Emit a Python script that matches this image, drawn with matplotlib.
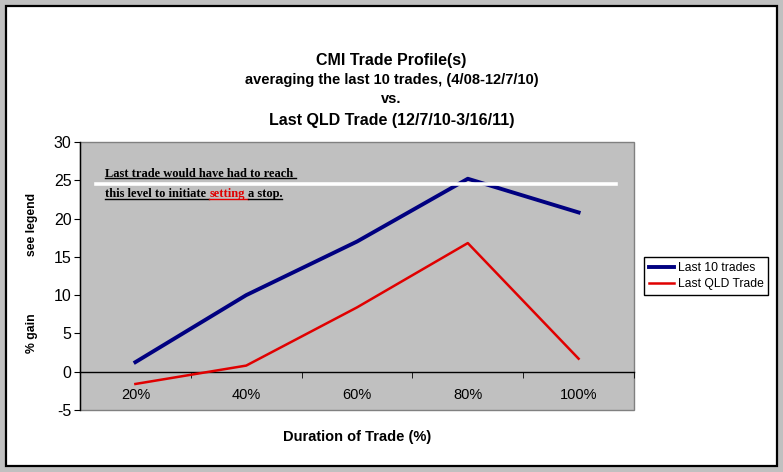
import numpy as np
import matplotlib
matplotlib.use("Agg")
import matplotlib.pyplot as plt
from matplotlib.patches import Rectangle
from matplotlib.lines import Line2D

plt.rcParams['axes.unicode_minus'] = False

# Data
categories = ['20%', '40%', '60%', '80%', '100%']
last_10 = [1.25, 10.0, 17.0, 25.2, 20.8]
last_qld = [-1.6, 0.8, 8.4, 16.8, 1.7]
stop_level = 24.5
stop_span = [-0.36, 4.34]

title_lines = ["CMI Trade Profile(s)",
               "averaging the last 10 trades, (4/08-12/7/10)",
               "vs.",
               "Last QLD Trade (12/7/10-3/16/11)"]
note_line1 = "Last trade would have had to reach"
note_line2 = ["this level to initiate", "setting", "a stop."]

W, H = 783, 472
SANS = "Liberation Sans"
SERIF = "Liberation Serif"


def fx(px):
    return px / W


def fy(py):
    return 1 - py / H


fig = plt.figure(figsize=(W / 100, H / 100), dpi=100, facecolor='#c0c0c0')

# white chart area with black frame
fig.patches.append(Rectangle((fx(6), fy(466)), (777 - 6) / W, (466 - 6) / H,
                             transform=fig.transFigure, facecolor='white',
                             edgecolor='black', lw=1.6, zorder=-10))

# plot area
ax = fig.add_axes([fx(80), fy(410), (634 - 80) / W, (410 - 142) / H])
ax.set_zorder(1)
ax.set_facecolor('#c0c0c0')

x = np.arange(len(categories))
ax.plot(x, last_10, color='#000080', lw=2.8, label='Last 10 trades', zorder=3)
ax.plot(x, last_qld, color='#e00000', lw=1.8, label='Last QLD Trade', zorder=3)
ax.plot(stop_span, [stop_level, stop_level], color='white', lw=2.6, zorder=4)

ax.set_xlim(-0.5, len(categories) - 0.5)
ax.set_ylim(-5, 30)
ax.set_yticks(range(-5, 31, 5))

# grey plot area border, black axes
ax.add_patch(Rectangle((0, 0), 1, 1, transform=ax.transAxes, fill=False,
                       edgecolor='#808080', lw=1, clip_on=False, zorder=1))
for s in ['top', 'right']:
    ax.spines[s].set_visible(False)
ax.spines['left'].set_color('black')
ax.spines['left'].set_linewidth(1)
ax.spines['bottom'].set_position(('data', 0))
ax.spines['bottom'].set_color('black')
ax.spines['bottom'].set_linewidth(1)

ax.set_xticks(x)
ax.set_xticklabels(categories)
ax.set_xticks(np.arange(-0.5, len(categories), 1), minor=True)
ax.tick_params(axis='x', which='major', length=0, pad=12, labelsize=10.5)
ax.tick_params(axis='x', which='minor', length=4, direction='out', color='black')
ax.tick_params(axis='y', length=4, direction='out', labelsize=11.5, pad=2)
for lab in ax.get_xticklabels() + ax.get_yticklabels():
    lab.set_fontfamily(SANS)

# titles
title_y = [60, 80, 99, 121]
title_size = [11.5, 10.5, 10.5, 11.5]
for line, ty, sz in zip(title_lines, title_y, title_size):
    fig.text(fx(391.5), fy(ty), line, ha='center', va='center',
             fontsize=sz, fontweight='bold', family=SANS)

# axis titles
fig.text(fx(357), fy(437), "Duration of Trade (%)", ha='center', va='center',
         fontsize=10.5, fontweight='bold', family=SANS)
fig.text(fx(32), fy(224), "see legend", ha='center', va='center', rotation=90,
         fontsize=8.8, fontweight='bold', family=SANS)
fig.text(fx(32), fy(333), "% gain", ha='center', va='center', rotation=90,
         fontsize=8.8, fontweight='bold', family=SANS)

# legend
leg = fig.legend(loc='center', bbox_to_anchor=(fx(706), fy(276)),
                 bbox_transform=fig.transFigure, frameon=True, fancybox=False,
                 edgecolor='black', facecolor='white', framealpha=1,
                 prop={'family': SANS, 'size': 8.7}, handlelength=2.1,
                 handletextpad=0.3, borderpad=0.4, labelspacing=0.35,
                 borderaxespad=0)
leg.get_frame().set_linewidth(1)

# annotation text, underlined, with the red word
fig.canvas.draw()
r = fig.canvas.get_renderer()
note_kw = dict(fontsize=9, fontweight='bold', family=SERIF, va='baseline',
               ha='left', zorder=5)

t1 = fig.text(0, 0, "a a", **note_kw)
t2 = fig.text(0, 0, "aa", **note_kw)
space = t1.get_window_extent(r).width - t2.get_window_extent(r).width
t1.remove()
t2.remove()


def underline(x0, x1, base_py, color):
    fig.add_artist(Line2D([fx(x0), fx(x1)], [fy(base_py + 1.5), fy(base_py + 1.5)],
                          transform=fig.transFigure, color=color, lw=1, zorder=5))


note_x = 105
base1, base2 = 177, 197
t = fig.text(fx(note_x), fy(base1), note_line1, color='black', **note_kw)
bb = t.get_window_extent(r)
underline(note_x, bb.x1 + space, base1, 'black')

cx = note_x
colors = ['black', '#e00000', 'black']
for i, (part, c) in enumerate(zip(note_line2, colors)):
    t = fig.text(fx(cx), fy(base2), part, color=c, **note_kw)
    bb = t.get_window_extent(r)
    end = bb.x1 + (space if i < len(note_line2) - 1 else 0)
    underline(cx, end, base2, c)
    cx = bb.x1 + space

fig.savefig("out.png", dpi=100, facecolor=fig.get_facecolor())
